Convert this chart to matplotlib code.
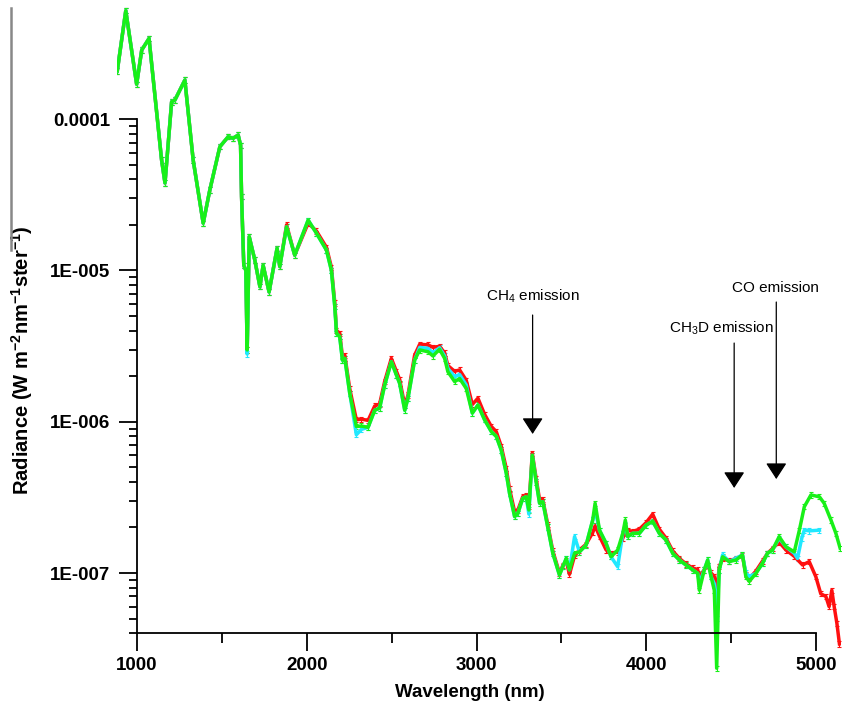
import numpy as np
import matplotlib
matplotlib.use("Agg")
import matplotlib.pyplot as plt
from matplotlib.lines import Line2D
from matplotlib.ticker import NullFormatter

plt.rcParams['font.family'] = ['Liberation Sans', 'DejaVu Sans']
plt.rcParams['font.weight'] = 'bold'
plt.rcParams['mathtext.default'] = 'regular'

# wavelength grid (nm)
wl = [884, 934, 998, 1028, 1071, 1145, 1165, 1204, 1224, 1282,
      1331, 1390, 1429, 1488, 1537, 1566, 1596, 1610, 1616, 1629,
      1641, 1649, 1661, 1694, 1724, 1743, 1778, 1825, 1841, 1881,
      1929, 2008, 2057, 2116, 2145, 2165, 2175, 2194, 2210, 2224,
      2253, 2292, 2322, 2361, 2400, 2429, 2459, 2498, 2528, 2547,
      2577, 2596, 2635, 2665, 2714, 2743, 2782, 2812, 2831, 2871,
      2900, 2939, 2975, 3008, 3047, 3087, 3116, 3145, 3175, 3194,
      3224, 3243, 3272, 3292, 3308, 3328, 3351, 3371, 3390, 3419,
      3449, 3488, 3508, 3528, 3547, 3577, 3606, 3645, 3684, 3698,
      3724, 3763, 3792, 3831, 3861, 3876, 3890, 3919, 3959, 3998,
      4037, 4076, 4116, 4155, 4194, 4233, 4272, 4302, 4312, 4341,
      4361, 4381, 4400, 4414, 4429, 4449, 4488, 4528, 4566, 4586,
      4606, 4645, 4684, 4713, 4743, 4782, 4822, 4871, 4901, 4930,
      4969, 5019, 5047, 5087, 5116, 5141]

green = [2.08e-4, 5.2e-4, 1.70e-4, 2.86e-4, 3.41e-4, 5.36e-5, 3.78e-5, 1.30e-4, 1.34e-4, 1.81e-4,
         5.36e-5, 2.05e-5, 3.40e-5, 6.56e-5, 7.64e-5, 7.46e-5, 7.84e-5, 6.73e-5, 3.07e-5, 1.08e-5,
         1.0e-5, 2.98e-6, 1.67e-5, 1.17e-5, 7.8e-6, 1.08e-5, 7.2e-6, 1.40e-5, 1.06e-5, 1.94e-5,
         1.26e-5, 2.15e-5, 1.76e-5, 1.36e-5, 1.0e-5, 5.75e-6, 3.84e-6, 3.64e-6, 2.55e-6, 2.62e-6,
         1.54e-6, 9.3e-7, 9.36e-7, 9.18e-7, 1.19e-6, 1.23e-6, 1.75e-6, 2.49e-6, 2.03e-6, 1.79e-6,
         1.19e-6, 1.43e-6, 2.55e-6, 2.98e-6, 2.90e-6, 2.72e-6, 3.01e-6, 2.62e-6, 2.14e-6, 1.84e-6,
         1.93e-6, 1.66e-6, 1.14e-6, 1.29e-6, 1.03e-6, 8.6e-7, 8.0e-7, 6.5e-7, 4.56e-7, 3.37e-7,
         2.36e-7, 2.48e-7, 3.12e-7, 3.19e-7, 2.61e-7, 6.0e-7, 4.0e-7, 2.89e-7, 2.96e-7, 2.02e-7,
         1.35e-7, 9.7e-8, 1.10e-7, 1.25e-7, 1.05e-7, 1.35e-7, 1.38e-7, 1.53e-7, 2.24e-7, 2.89e-7,
         1.92e-7, 1.57e-7, 1.28e-7, 1.42e-7, 1.83e-7, 2.24e-7, 1.74e-7, 1.83e-7, 1.83e-7, 2.07e-7,
         2.2e-7, 1.83e-7, 1.65e-7, 1.35e-7, 1.22e-7, 1.13e-7, 1.05e-7, 9.95e-8, 7.7e-8, 1.05e-7,
         1.22e-7, 9.45e-8, 7.7e-8, 2.35e-8, 1.05e-7, 1.28e-7, 1.19e-7, 1.22e-7, 1.32e-7, 9.45e-8,
         8.8e-8, 9.95e-8, 1.16e-7, 1.35e-7, 1.42e-7, 1.74e-7, 1.49e-7, 1.38e-7, 1.92e-7, 2.74e-7,
         3.28e-7, 3.19e-7, 2.89e-7, 2.24e-7, 1.83e-7, 1.46e-7]

red_wl = wl[:126] + [4822, 4871, 4920, 4959, 4998, 5027, 5057, 5076, 5092, 5106, 5122, 5137]
red = [2.08e-4, 5.2e-4, 1.70e-4, 2.86e-4, 3.41e-4, 5.36e-5, 3.78e-5, 1.30e-4, 1.34e-4, 1.81e-4,
       5.36e-5, 2.05e-5, 3.40e-5, 6.56e-5, 7.64e-5, 7.46e-5, 7.84e-5, 6.73e-5, 3.07e-5, 1.08e-5,
       1.0e-5, 2.98e-6, 1.67e-5, 1.17e-5, 7.8e-6, 1.08e-5, 7.2e-6, 1.40e-5, 1.06e-5, 2.0e-5,
       1.26e-5, 2.05e-5, 1.82e-5, 1.42e-5, 1.05e-5, 6.1e-6, 4.0e-6, 3.85e-6, 2.7e-6, 2.75e-6,
       1.65e-6, 1.03e-6, 1.04e-6, 1.02e-6, 1.27e-6, 1.31e-6, 1.85e-6, 2.62e-6, 2.15e-6, 1.9e-6,
       1.28e-6, 1.5e-6, 2.75e-6, 3.25e-6, 3.22e-6, 3.1e-6, 3.15e-6, 2.85e-6, 2.35e-6, 2.15e-6,
       2.2e-6, 1.88e-6, 1.3e-6, 1.43e-6, 1.12e-6, 9.3e-7, 8.6e-7, 6.9e-7, 4.9e-7, 3.6e-7,
       2.55e-7, 2.6e-7, 3.2e-7, 3.25e-7, 2.75e-7, 6.2e-7, 4.2e-7, 3.05e-7, 3.05e-7, 2.1e-7,
       1.4e-7, 1.0e-7, 1.12e-7, 1.2e-7, 9.8e-8, 1.3e-7, 1.42e-7, 1.55e-7, 1.85e-7, 2.05e-7,
       1.75e-7, 1.42e-7, 1.35e-7, 1.38e-7, 1.7e-7, 1.85e-7, 1.92e-7, 1.88e-7, 1.95e-7, 2.15e-7,
       2.45e-7, 1.95e-7, 1.7e-7, 1.4e-7, 1.25e-7, 1.15e-7, 1.08e-7, 1.05e-7, 9.5e-8, 1.05e-7,
       1.12e-7, 1.0e-7, 9.5e-8, 7.4e-8, 1.1e-7, 1.25e-7, 1.2e-7, 1.25e-7, 1.3e-7, 9.8e-8,
       9.2e-8, 1.03e-7, 1.2e-7, 1.35e-7, 1.45e-7, 1.6e-7,
       1.42e-7, 1.29e-7, 1.13e-7, 1.19e-7, 9.45e-8, 7.3e-8, 7.0e-8, 6.0e-8, 7.7e-8, 6.0e-8,
       4.65e-8, 3.4e-8]

cyan_wl = wl[:127] + [4871, 4890, 4915, 4930, 4960, 5019]
cyan = [2.08e-4, 5.2e-4, 1.70e-4, 2.86e-4, 3.41e-4, 5.36e-5, 3.78e-5, 1.30e-4, 1.34e-4, 1.81e-4,
        5.36e-5, 2.05e-5, 3.40e-5, 6.56e-5, 7.64e-5, 7.46e-5, 7.84e-5, 6.73e-5, 3.07e-5, 1.08e-5,
        1.0e-5, 2.8e-6, 1.67e-5, 1.17e-5, 7.8e-6, 1.08e-5, 7.2e-6, 1.40e-5, 1.06e-5, 1.94e-5,
        1.26e-5, 2.15e-5, 1.76e-5, 1.36e-5, 1.0e-5, 5.75e-6, 3.84e-6, 3.64e-6, 2.55e-6, 2.62e-6,
        1.54e-6, 8.2e-7, 8.9e-7, 9.18e-7, 1.19e-6, 1.23e-6, 1.75e-6, 2.49e-6, 2.03e-6, 1.79e-6,
        1.19e-6, 1.43e-6, 2.55e-6, 3.1e-6, 3.05e-6, 2.85e-6, 3.08e-6, 2.72e-6, 2.25e-6, 1.98e-6,
        2.05e-6, 1.75e-6, 1.14e-6, 1.29e-6, 1.03e-6, 8.6e-7, 8.0e-7, 6.5e-7, 4.56e-7, 3.37e-7,
        2.36e-7, 2.48e-7, 3.12e-7, 3.19e-7, 2.45e-7, 6.0e-7, 4.0e-7, 2.89e-7, 2.96e-7, 2.02e-7,
        1.35e-7, 9.7e-8, 1.10e-7, 1.25e-7, 1.05e-7, 1.74e-7, 1.38e-7, 1.53e-7, 2.24e-7, 2.6e-7,
        1.92e-7, 1.57e-7, 1.28e-7, 1.1e-7, 1.83e-7, 2.1e-7, 1.74e-7, 1.83e-7, 1.83e-7, 2.07e-7,
        2.2e-7, 1.83e-7, 1.65e-7, 1.35e-7, 1.22e-7, 1.13e-7, 1.05e-7, 9.95e-8, 8.5e-8, 1.05e-7,
        1.22e-7, 9.45e-8, 8.5e-8, 5.0e-8, 1.05e-7, 1.32e-7, 1.19e-7, 1.25e-7, 1.32e-7, 1.0e-7,
        9.5e-8, 9.95e-8, 1.16e-7, 1.35e-7, 1.42e-7, 1.7e-7, 1.49e-7,
        1.35e-7, 1.25e-7, 1.7e-7, 1.92e-7, 1.9e-7, 1.92e-7]

rel_err = 0.04

y_major = [1e-7, 1e-6, 1e-5, 1e-4]
y_major_labels = ["1E-007", "1E-006", "1E-005", "0.0001"]
x_major = [1000, 2000, 3000, 4000, 5000]
x_minor = [1500, 2500, 3500, 4500]

notes = [("CH$_4$ emission", 3330, 6.7e-6, 5.07e-6, 8.3e-7),
         ("CH$_3$D emission", 4517, 4.16e-6, 3.31e-6, 3.65e-7),
         ("CO emission", 4765, 7.64e-6, 6.18e-6, 4.18e-7)]
note_text_x = [3330, 4441, 4759]

fig = plt.figure(figsize=(8.42, 7.08), dpi=100)
ax = fig.add_axes([0.13848, 0.04124, 0.8601, 0.9569])
ax.set_yscale('log')

for x, y, c in [(red_wl, red, '#ff1010'), (cyan_wl, cyan, '#20e8ff'), (wl, green, '#18f018')]:
    y = np.array(y)
    ax.errorbar(x, y, yerr=y * rel_err, color=c, ecolor=c, lw=2.5, elinewidth=0.8,
                capsize=1.5, capthick=0.8)

ax.set_xlim(880, 5145)
ax.set_ylim(2e-8, 6e-4)

for s in ['top', 'right']:
    ax.spines[s].set_visible(False)
ax.spines['left'].set_position(('data', 1000))
ax.spines['left'].set_bounds(4e-8, 1e-4)
ax.spines['bottom'].set_position(('data', 4e-8))
ax.spines['bottom'].set_bounds(1000, 5000)
for s in ['left', 'bottom']:
    ax.spines[s].set_linewidth(1.3)

y_minor = [k * 10.0**e for e in range(-8, -4) for k in range(2, 10)]
y_minor = [v for v in y_minor if 3.9e-8 < v < 1e-4]
ax.set_yticks(y_major, labels=y_major_labels)
ax.set_yticks(y_minor, minor=True)
ax.yaxis.set_minor_formatter(NullFormatter())
ax.set_xticks(x_major, labels=[str(v) for v in x_major])
ax.set_xticks(x_minor, minor=True)

ax.tick_params(which='major', direction='out', length=13, width=1.3, labelsize=13.5)
ax.tick_params(axis='y', which='major', pad=6)
ax.tick_params(axis='x', which='major', pad=4)
ax.tick_params(which='minor', direction='out', length=6, width=1.3)
ax.tick_params(axis='x', which='minor', length=7.5)

ax.set_xlabel("Wavelength (nm)", fontsize=13.5, fontweight='bold')
ax.xaxis.set_label_coords(0.488, -0.008)
ax.set_ylabel("Radiance (W m$^{-2}$nm$^{-1}$ster$^{-1}$)", fontsize=14.5, fontweight='bold')
ax.yaxis.set_label_coords(-0.113, 0.47)

for (txt, x, ty, y0, y1), tx in zip(notes, note_text_x):
    ax.text(tx, ty, txt, fontsize=11, fontweight='normal', ha='center', va='center')
    ax.annotate('', xy=(x, y1), xytext=(x, y0),
                arrowprops=dict(arrowstyle='-|>,head_length=1.0,head_width=0.65',
                                mutation_scale=10, color='black', lw=0.9,
                                shrinkA=0, shrinkB=0))

fig.add_artist(Line2D([11 / 842, 11 / 842], [1 - 8 / 708, 1 - 250 / 708],
                      color='#888888', lw=1.8))

fig.savefig('out.png', dpi=100)
